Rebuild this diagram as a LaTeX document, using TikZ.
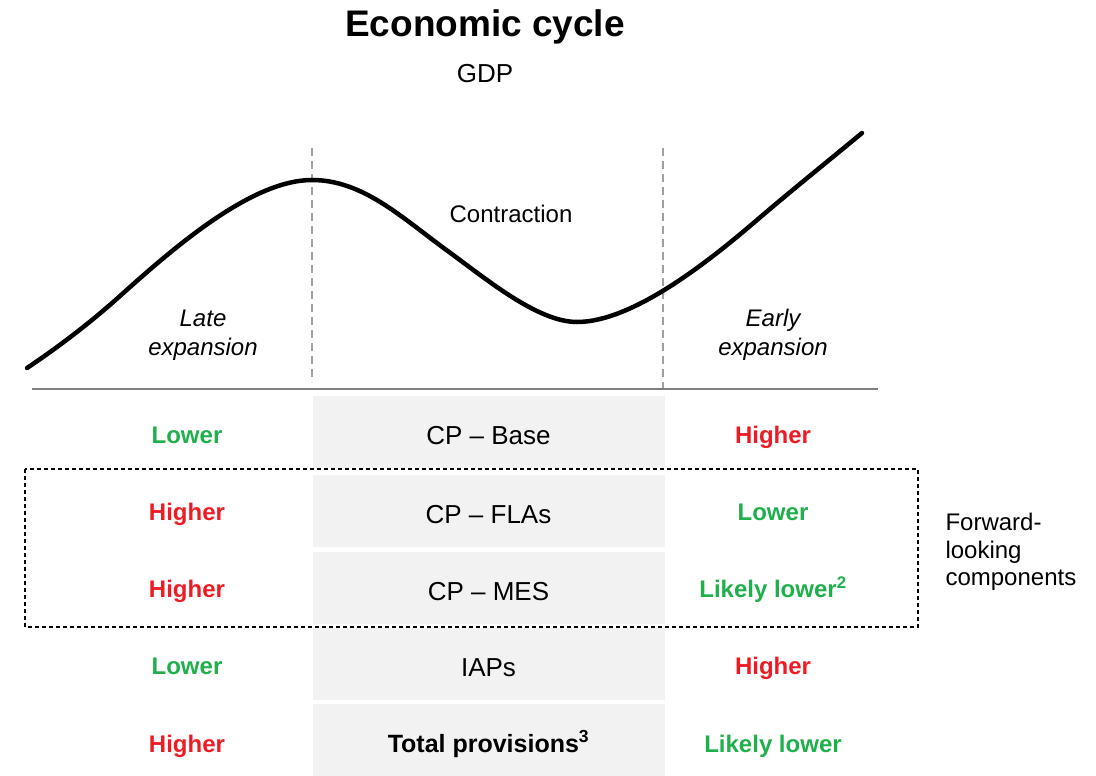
\documentclass[tikz,border=0pt]{standalone}
\usepackage{fontspec}
\setmainfont{Liberation Sans}
\usepackage{tikz}
\usetikzlibrary{positioning}
\definecolor{upgreen}{HTML}{1FAF4B}
\definecolor{upred}{HTML}{ED1C24}
\definecolor{cellgrey}{HTML}{F2F2F2}
\definecolor{axisgrey}{HTML}{808080}
\definecolor{splitgrey}{HTML}{A0A0A0}

\begin{document}
\begin{tikzpicture}[x=1pt,y=-1pt,font=\fontsize{24}{28}\selectfont,
     cell/.style={fill=cellgrey,minimum width=352pt,minimum height=72pt,inner sep=0pt,text height=24pt,text depth=0pt,font=\fontsize{26}{30}\selectfont},
     lo/.style={text=upgreen,text height=17.5pt,text depth=0pt,font=\fontsize{24}{28}\selectfont\bfseries},
     hi/.style={text=upred,text height=17.5pt,text depth=0pt,font=\fontsize{24}{28}\selectfont\bfseries},
     phase/.style={align=center,font=\fontsize{24}{29}\selectfont\itshape},
     split/.style={draw=splitgrey,line width=2pt,dash pattern=on 8pt off 5pt}]
    \useasboundingbox (0,0) rectangle (1096,776);
    \node(title) at (485,27){\fontsize{37}{40}\selectfont\bfseries Economic cycle};
    \node[font=\fontsize{26}{30}\selectfont](gdp) at (485,74){GDP};
    \draw[split] (312,148) -- (312,382);
    \draw[split] (663,148) -- (663,390);
    \draw[line width=4.5pt,line cap=round] (27,368) .. controls (57,348) and (90,323) .. (120,296)
        .. controls (175,246.5) and (252,180) .. (312,180)
        .. controls (362,180) and (400,216) .. (445,249)
        .. controls (485,278) and (537,322) .. (577,322)
        .. controls (632,322) and (707,263) .. (757,220)
        .. controls (792,190) and (827,162) .. (862,133);
    \node[phase](late) at (203,335){Late\\expansion};
    \node(contr) at (511,214){Contraction};
    \node[phase](early) at (773,335){Early\\expansion};
    \draw[axisgrey,line width=2pt] (32,389) -- (878,389);
    \node[cell](base) at (488.5,432){CP -- Base};
    \node[cell](flas) at (488.5,511){CP -- FLAs};
    \node[cell](mes) at (488.5,588){CP -- MES};
    \node[cell](iaps) at (488.5,664){IAPs};
    \node[cell,font=\fontsize{25}{29}\selectfont\bfseries](total) at (488.5,740){Total provisions\textsuperscript{3}};
    \node[lo](l1) at (187,435){Lower};       \node[hi](r1) at (773,435){Higher};
    \node[hi](l2) at (187,512){Higher};      \node[lo](r2) at (773,512){Lower};
    \node[hi](l3) at (187,589){Higher};      \node[lo](r3) at (773,589){Likely lower\textsuperscript{2}};
    \node[lo](l4) at (187,666){Lower};       \node[hi](r4) at (773,666){Higher};
    \node[hi](l5) at (187,744){Higher};      \node[lo](r5) at (773,744){Likely lower};
    \draw[line width=1.2pt,dash pattern=on 4pt off 3pt] (25,469) rectangle (918,627);
    \node[anchor=west,align=left,font=\fontsize{24}{27.5}\selectfont](fwd) at (942,552){Forward-\\looking\\components};
\end{tikzpicture}
\end{document}
